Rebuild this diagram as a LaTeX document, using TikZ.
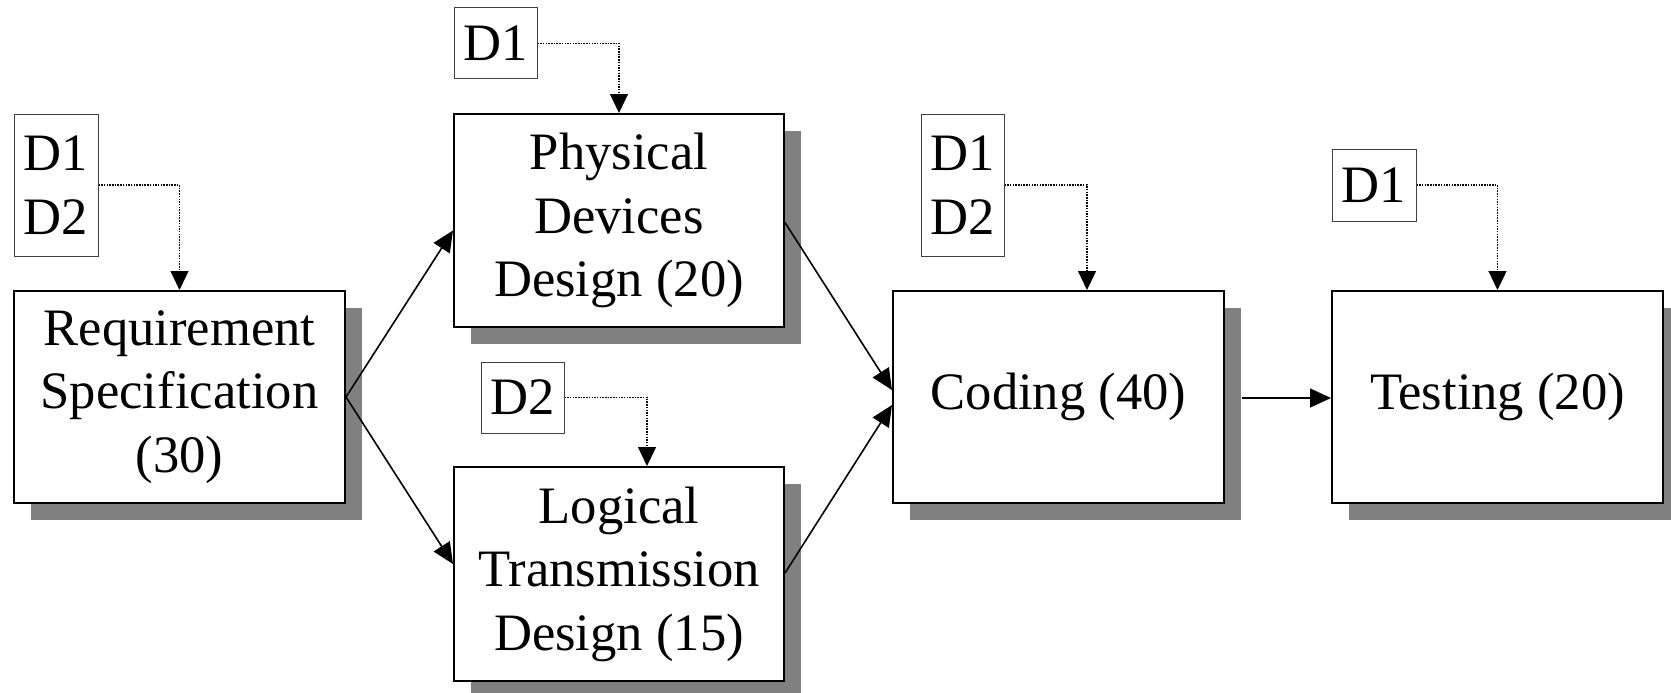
\documentclass[tikz,border=0pt]{standalone}
\usepackage{fontspec}
\setmainfont{Liberation Serif}
\usetikzlibrary{arrows.meta,shadows}
\definecolor{shgray}{RGB}{128,128,128}
\newcommand{\dgfont}{\fontsize{52.6}{63.5}\selectfont}
\tikzset{
  proc/.style={draw, line width=2pt, fill=white, minimum width=331pt, minimum height=212pt,
    inner sep=0pt, align=center, font=\dgfont,
    drop shadow={shadow xshift=17pt, shadow yshift=-17pt, fill=shgray, opacity=1}},
  dbox/.style={draw=black!75, line width=1pt, fill=white, inner sep=0pt, align=center, font=\dgfont,
    minimum width=84pt},
  flow/.style={line width=1.6pt, -{Triangle[length=21pt,width=19pt]}},
  dep/.style={line width=1.3pt, dash pattern=on 1.5pt off 1.2pt, -{Triangle[length=19pt,width=18pt]}}
}
\begin{document}
\begin{tikzpicture}[x=1pt,y=1pt]
\useasboundingbox (0,0) rectangle (1671,-693);
% process boxes
\node[proc] (R) at (179.5,-397) {Requirement\\Specification\\(30)};
\node[proc, minimum width=330pt, minimum height=213pt] (P) at (619,-220.5) {Physical\\Devices\\Design (20)};
\node[proc, minimum width=330pt, minimum height=214pt] (L) at (619,-574) {Logical\\Transmission\\Design (15)};
\node[proc] (C) at (1058.5,-397) {Coding (40)};
\node[proc] (T) at (1497.5,-397) {Testing (20)};
% resource boxes
\node[dbox, minimum height=142pt] (DR) at (56,-185) {D1\\D2};
\node[dbox, minimum width=83pt, minimum height=71pt] (DP) at (495.5,-43.5) {D1};
\node[dbox, minimum width=83pt, minimum height=71pt] (DL) at (522.5,-397.5) {D2};
\node[dbox, minimum width=83pt, minimum height=142pt] (DC) at (962.5,-185) {D1\\D2};
\node[dbox, minimum height=72pt] (DT) at (1374,-185) {D1};
% helper coordinates
\coordinate (Lin) at ([xshift=28pt]L.north);
\coordinate (Cin) at ([xshift=28.5pt]C.north);
\coordinate (Pw) at ([yshift=-10pt]P.west);
\coordinate (Lw) at ([yshift=10pt]L.west);
\coordinate (Cw1) at ([yshift=7pt]C.west);
\coordinate (Cw2) at ([yshift=-8pt]C.west);
\coordinate (Cout) at ([xshift=17pt,yshift=-1pt]C.east);
\coordinate (Tin) at ([yshift=-1pt]T.west);
% flow arrows
\draw[flow] (R.east) -- (Pw);
\draw[flow] (R.east) -- (Lw);
\draw[flow] ([yshift=-2pt]P.east) -- (Cw1);
\draw[flow] ([yshift=1pt]L.east) -- (Cw2);
\draw[flow] (Cout) -- (Tin);
% resource dependencies
\draw[dep] (DR.east) -| (R.north);
\draw[dep] (DP.east) -| (P.north);
\draw[dep] (DL.east) -| (Lin);
\draw[dep] (DC.east) -| (Cin);
\draw[dep] (DT.east) -| (T.north);
\end{tikzpicture}
\end{document}
